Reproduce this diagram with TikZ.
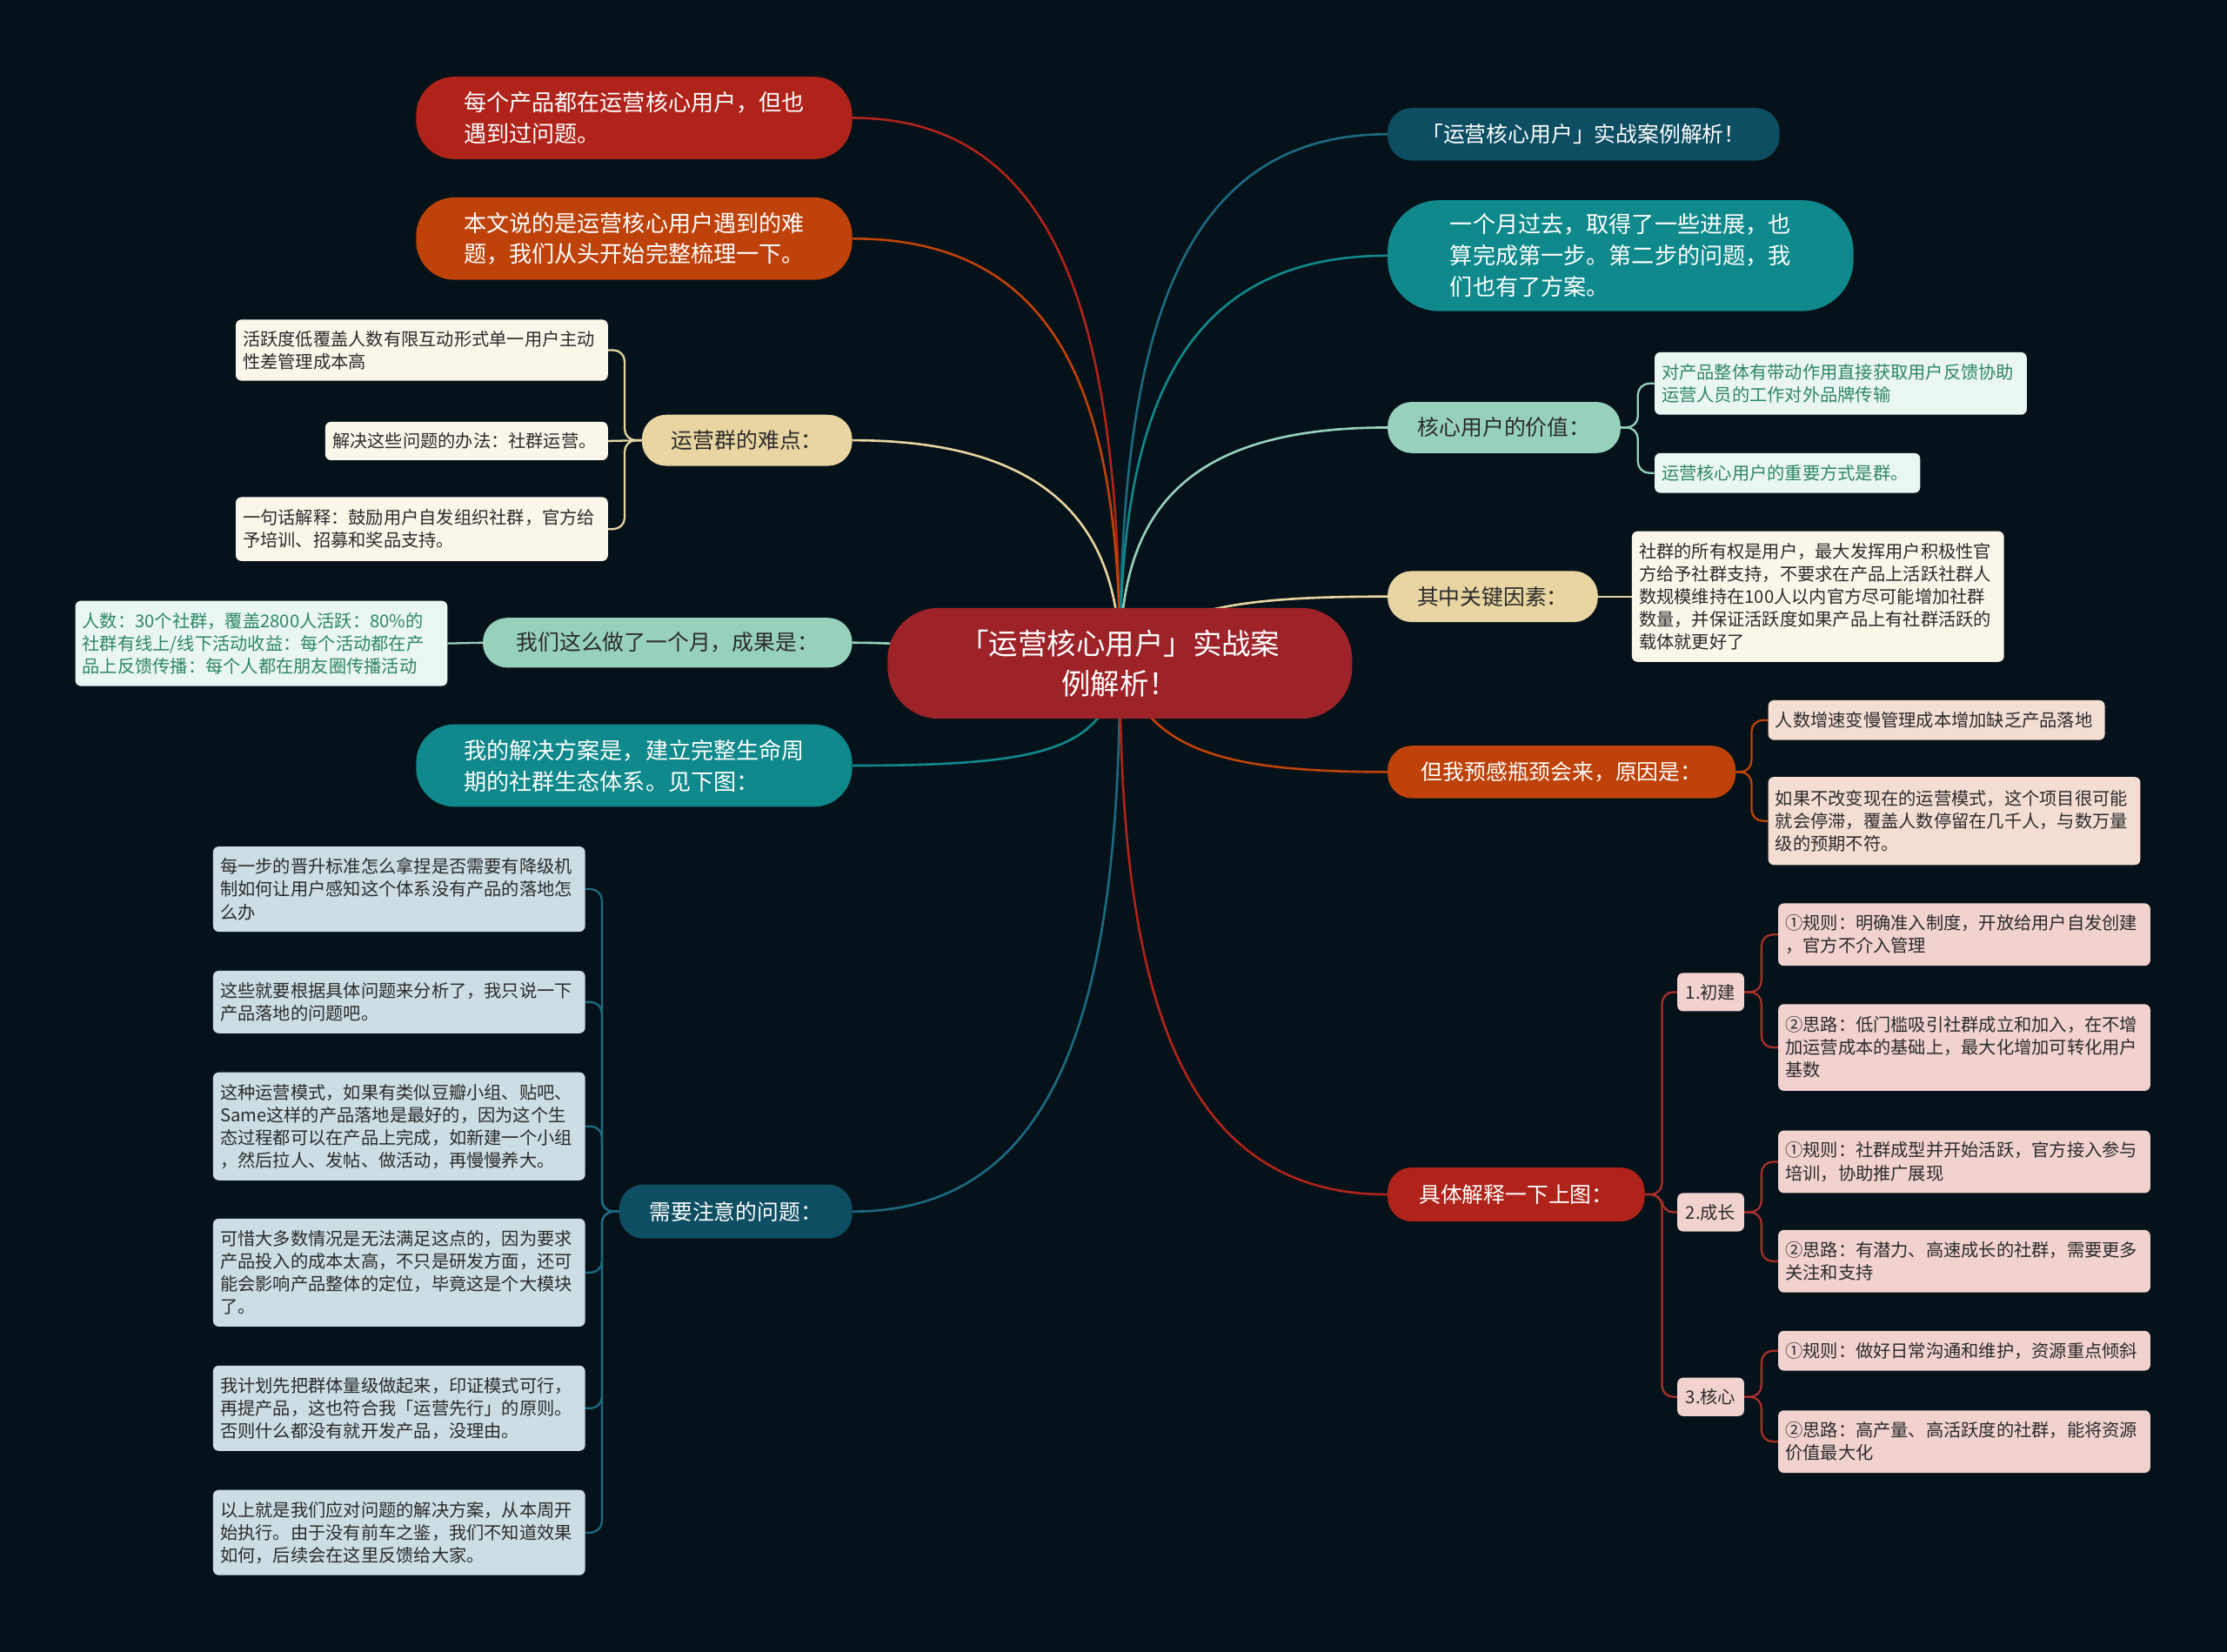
\documentclass[tikz,border=0pt]{standalone}
\usepackage{fontspec}
\setmainfont{Noto Sans CJK SC}
\usepackage{xcolor}
\usepackage{tikz}
\usetikzlibrary{positioning, calc}
\pgfdeclarelayer{bg}
\pgfsetlayers{bg,main}
\definecolor{bgnavy}{HTML}{061219}
\definecolor{mroot}{HTML}{9E2329}
\definecolor{mred}{HTML}{B0231A}
\definecolor{morange}{HTML}{BE4209}
\definecolor{mbeige}{HTML}{E8D5A1}
\definecolor{mmint}{HTML}{97D1BC}
\definecolor{mteal}{HTML}{0F898B}
\definecolor{mpetrol}{HTML}{0D4E62}
\definecolor{lpetrol}{HTML}{1C6A80}
\definecolor{lred}{HTML}{A8302A}
\definecolor{tcream}{HTML}{FAF6EA}
\definecolor{tmint}{HTML}{EAF6F1}
\definecolor{tgreen}{HTML}{2E8763}
\definecolor{tblue}{HTML}{CCDEE3}
\definecolor{tpeach}{HTML}{F4DDD3}
\definecolor{tpink}{HTML}{F1D2CF}
\definecolor{tdark}{HTML}{2B2B2B}

\begin{document}
\begin{tikzpicture}[x=1pt, y=-1pt,
  core/.style={fill=mroot, text=white, rounded corners=36, minimum width=327, minimum height=78, align=center, font=\fontsize{20.5}{28}\selectfont},
  bigpill/.style={fill=#1, text=white, rounded corners=27, minimum width=307, minimum height=58, align=left, font=\fontsize{16}{22}\selectfont},
  pill/.style={fill=#1, text=tdark, rounded corners=17, minimum height=36, align=left, font=\fontsize{15.2}{20}\selectfont},
  leaf/.style={fill=#1, text=tdark, rounded corners=4, inner xsep=5, inner ysep=4, text width=252, align=left, font=\fontsize{12.4}{16}\selectfont},
  stage/.style={fill=tpink, text=tdark, rounded corners=4, minimum width=47, minimum height=27, inner sep=2, font=\fontsize{12.4}{16}\selectfont},
  branch/.style={line width=1.6},
  twig/.style={line width=1.4, rounded corners=8}]
\useasboundingbox (0,0) rectangle (1568,1163);

% centre
\node[core] (core) at (788.5,467) {「运营核心用户」实战案\\例解析！};

% left side
\node[bigpill=mred] (intro) at (446.5,83) {每个产品都在运营核心用户，但也\\遇到过问题。};
\node[bigpill=morange] (topic) at (446.5,168) {本文说的是运营核心用户遇到的难\\题，我们从头开始完整梳理一下。};
\node[pill=mbeige, minimum width=148] (hard) at (526,310) {运营群的难点：};
\node[pill=mmint, minimum width=260, minimum height=35] (result) at (470,452.5) {我们这么做了一个月，成果是：};
\node[bigpill=mteal] (plan) at (446.5,539) {我的解决方案是，建立完整生命周\\期的社群生态体系。见下图：};
\node[pill=mpetrol, text=white, minimum width=164, minimum height=38] (notice) at (518,853) {需要注意的问题：};

\node[leaf=tcream, minimum height=43] (hardA) at (297,246.5) {活跃度低覆盖人数有限互动形式单一用户主动\\性差管理成本高};
\node[leaf=tcream, text width=189, minimum height=27] (hardB) at (328.5,310.5) {解决这些问题的办法：社群运营。};
\node[leaf=tcream, minimum height=45] (hardC) at (297,372.5) {一句话解释：鼓励用户自发组织社群，官方给\\予培训、招募和奖品支持。};
\node[leaf=tmint, text=tgreen, minimum height=60] (resultA) at (184,453) {人数：30个社群，覆盖2800人活跃：80\%的\\社群有线上/线下活动收益：每个活动都在产\\品上反馈传播：每个人都在朋友圈传播活动};

\node[leaf=tblue, minimum height=60] (noteA) at (281,626) {每一步的晋升标准怎么拿捏是否需要有降级机\\制如何让用户感知这个体系没有产品的落地怎\\么办};
\node[leaf=tblue, minimum height=44] (noteB) at (281,705.5) {这些就要根据具体问题来分析了，我只说一下\\产品落地的问题吧。};
\node[leaf=tblue, minimum height=76] (noteC) at (281,793) {这种运营模式，如果有类似豆瓣小组、贴吧、\\Same这样的产品落地是最好的，因为这个生\\态过程都可以在产品上完成，如新建一个小组\\，然后拉人、发帖、做活动，再慢慢养大。};
\node[leaf=tblue, minimum height=76] (noteD) at (281,896) {可惜大多数情况是无法满足这点的，因为要求\\产品投入的成本太高，不只是研发方面，还可\\能会影响产品整体的定位，毕竟这是个大模块\\了。};
\node[leaf=tblue, minimum height=60] (noteE) at (281,991.5) {我计划先把群体量级做起来，印证模式可行，\\再提产品，这也符合我「运营先行」的原则。\\否则什么都没有就开发产品，没理由。};
\node[leaf=tblue, minimum height=60] (noteF) at (281,1079) {以上就是我们应对问题的解决方案，从本周开\\始执行。由于没有前车之鉴，我们不知道效果\\如何，后续会在这里反馈给大家。};

% right side
\node[pill=mpetrol, text=white, minimum width=276, minimum height=37] (title) at (1115,94.5) {「运营核心用户」实战案例解析！};
\node[bigpill=mteal, minimum width=328, minimum height=78, rounded corners=36] (month) at (1141,180) {一个月过去，取得了一些进展，也\\算完成第一步。第二步的问题，我\\们也有了方案。};
\node[pill=mmint, minimum width=164] (value) at (1059,301) {核心用户的价值：};
\node[pill=mbeige, minimum width=148] (key) at (1051,420) {其中关键因素：};
\node[pill=morange, text=white, minimum width=245, minimum height=37] (neck) at (1099.5,543.5) {但我预感瓶颈会来，原因是：};
\node[pill=mred, text=white, minimum width=181, minimum height=38] (explain) at (1067.5,841) {具体解释一下上图：};

\node[leaf=tmint, text=tgreen, minimum height=44] (valueA) at (1296,270) {对产品整体有带动作用直接获取用户反馈协助\\运营人员的工作对外品牌传输};
\node[leaf=tmint, text=tgreen, text width=177, minimum height=28] (valueB) at (1258.5,333) {运营核心用户的重要方式是群。};
\node[leaf=tcream, minimum height=92] (keyA) at (1280,420) {社群的所有权是用户，最大发挥用户积极性官\\方给予社群支持，不要求在产品上活跃社群人\\数规模维持在100人以内官方尽可能增加社群\\数量，并保证活跃度如果产品上有社群活跃的\\载体就更好了};
\node[leaf=tpeach, text width=227, minimum height=28] (neckA) at (1363.5,507) {人数增速变慢管理成本增加缺乏产品落地};
\node[leaf=tpeach, minimum height=62] (neckB) at (1376,578) {如果不改变现在的运营模式，这个项目很可能\\就会停滞，覆盖人数停留在几千人，与数万量\\级的预期不符。};

\node[stage] (stageA) at (1204.5,698.5) {1.初建};
\node[stage] (stageB) at (1204.5,853.5) {2.成长};
\node[stage] (stageC) at (1204.5,983.5) {3.核心};
\node[leaf=tpink, minimum height=44] (stageA1) at (1383,658) {①规则：明确准入制度，开放给用户自发创建\\，官方不介入管理};
\node[leaf=tpink, minimum height=61] (stageA2) at (1383,737.5) {②思路：低门槛吸引社群成立和加入，在不增\\加运营成本的基础上，最大化增加可转化用户\\基数};
\node[leaf=tpink, minimum height=44] (stageB1) at (1383,818) {①规则：社群成型并开始活跃，官方接入参与\\培训，协助推广展现};
\node[leaf=tpink, minimum height=44] (stageB2) at (1383,888) {②思路：有潜力、高速成长的社群，需要更多\\关注和支持};
\node[leaf=tpink, minimum height=28] (stageC1) at (1383,951) {①规则：做好日常沟通和维护，资源重点倾斜};
\node[leaf=tpink, minimum height=44] (stageC2) at (1383,1015) {②思路：高产量、高活跃度的社群，能将资源\\价值最大化};

\begin{pgfonlayer}{bg}
\fill[bgnavy] (0,0) rectangle (1568,1163);
% branches from the centre
\draw[branch, mred] (core.center) .. controls +(0,-230) and +(150,0) .. (intro.east);
\draw[branch, morange] (core.center) .. controls +(0,-180) and +(150,0) .. (topic.east);
\draw[branch, mbeige] (core.center) .. controls +(0,-95) and +(140,0) .. (hard.east);
\draw[branch, mmint] (core.center) .. controls +(-80,0) and +(80,0) .. (result.east);
\draw[branch, mteal] (core.center) .. controls +(-10,60) and +(140,0) .. (plan.east);
\draw[branch, lpetrol] (core.center) .. controls +(0,230) and +(150,0) .. (notice.east);
\draw[branch, lpetrol] (core.center) .. controls +(0,-225) and +(-150,0) .. (title.west);
\draw[branch, mteal] (core.center) .. controls +(0,-170) and +(-150,0) .. (month.west);
\draw[branch, mmint] (core.center) .. controls +(0,-100) and +(-150,0) .. (value.west);
\draw[branch, mbeige] (core.center) .. controls +(30,-40) and +(-100,0) .. (key.west);
\draw[branch, morange] (core.center) .. controls +(20,60) and +(-120,0) .. (neck.west);
\draw[branch, mred] (core.center) .. controls +(0,225) and +(-150,0) .. (explain.west);
% sub branches
\draw[twig, mbeige] (hard.west) -- ++(-12,0) |- (hardA.east);
\draw[twig, mbeige] (hard.west) -- (hardB.east);
\draw[twig, mbeige] (hard.west) -- ++(-12,0) |- (hardC.east);
\draw[twig, mmint] (result.west) -- (resultA.east);
\draw[twig, lpetrol] (notice.west) -- ++(-12,0) |- (noteA.east);
\draw[twig, lpetrol] (notice.west) -- ++(-12,0) |- (noteB.east);
\draw[twig, lpetrol] (notice.west) -- ++(-12,0) |- (noteC.east);
\draw[twig, lpetrol] (notice.west) -- ++(-12,0) |- (noteD.east);
\draw[twig, lpetrol] (notice.west) -- ++(-12,0) |- (noteE.east);
\draw[twig, lpetrol] (notice.west) -- ++(-12,0) |- (noteF.east);
\draw[twig, mmint] (value.east) -- ++(12,0) |- (valueA.west);
\draw[twig, mmint] (value.east) -- ++(12,0) |- (valueB.west);
\draw[twig, mbeige] (key.east) -- (keyA.west);
\draw[twig, morange] (neck.east) -- ++(11,0) |- (neckA.west);
\draw[twig, morange] (neck.east) -- ++(11,0) |- (neckB.west);
\draw[twig, lred] (explain.east) -- ++(12,0) |- (stageA.west);
\draw[twig, lred] (explain.east) -- ++(12,0) |- (stageB.west);
\draw[twig, lred] (explain.east) -- ++(12,0) |- (stageC.west);
\draw[twig, lred] (stageA.east) -- ++(12,0) |- (stageA1.west);
\draw[twig, lred] (stageA.east) -- ++(12,0) |- (stageA2.west);
\draw[twig, lred] (stageB.east) -- ++(12,0) |- (stageB1.west);
\draw[twig, lred] (stageB.east) -- ++(12,0) |- (stageB2.west);
\draw[twig, lred] (stageC.east) -- ++(12,0) |- (stageC1.west);
\draw[twig, lred] (stageC.east) -- ++(12,0) |- (stageC2.west);
\end{pgfonlayer}
\end{tikzpicture}
\end{document}
